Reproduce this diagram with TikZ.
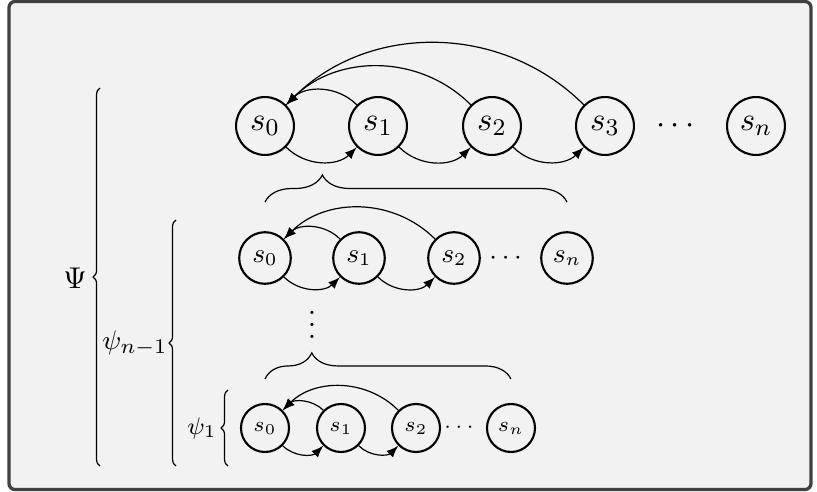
\documentclass[tikz,border=0pt]{standalone}
\usepackage{amsmath}
\usepackage{tikz}
\usetikzlibrary{decorations.pathreplacing,arrows}

\definecolor{bggray}{HTML}{F2F2F2}
\definecolor{framegray}{HTML}{404040}

\tikzset{
  st/.style={circle,draw,line width=0.7pt,inner sep=0pt},
  bigst/.style={st,minimum size=19.3pt,font=\fontsize{11}{13}\selectfont},
  midst/.style={st,minimum size=17.2pt,font=\fontsize{9}{11}\selectfont},
  smallst/.style={st,minimum size=16pt,font=\fontsize{7.5}{9}\selectfont},
  arr/.style={-latex,line width=0.4pt},
  fwd/.style={out=-45,in=-135},
  bwd/.style={out=135,in=45},
  brc/.style={decorate,decoration={brace,amplitude=#1},line width=0.4pt},
}

\begin{document}
\begin{tikzpicture}[x=0.3333pt,y=0.3333pt]
  \useasboundingbox (0,0) rectangle (817,-492);
  \draw[line width=1.1pt,draw=framegray,fill=bggray,rounded corners=2pt]
    (9,-1.5) rectangle (811,-489.5);

  % top row
  \foreach \i/\x in {0/265,1/378,2/492,3/605}
    \node[bigst] (a\i) at (\x,-126) {$s_\i$};
  \node[font=\fontsize{11}{13}\selectfont] (adots) at (678,-126) {$\cdots$};
  \node[bigst] (an) at (756,-126) {$s_n$};
  \foreach \i/\j in {0/1,1/2,2/3}
    \draw[arr] (a\i) to[fwd] (a\j);
  \foreach \i in {1,2,3}
    \draw[arr] (a\i) to[bwd] (a0);

  % middle row
  \foreach \i/\x in {0/265,1/359,2/454}
    \node[midst] (b\i) at (\x,-258) {$s_\i$};
  \node[font=\fontsize{9}{11}\selectfont] (bdots) at (508,-258) {$\cdots$};
  \node[midst] (bn) at (567,-258) {$s_n$};
  \foreach \i/\j in {0/1,1/2}
    \draw[arr] (b\i) to[fwd] (b\j);
  \foreach \i in {1,2}
    \draw[arr] (b\i) to[bwd] (b0);

  % bottom row
  \foreach \i/\x in {0/265,1/341,2/416}
    \node[smallst] (c\i) at (\x,-428) {$s_\i$};
  \node[font=\fontsize{7.5}{9}\selectfont] (cdots) at (461,-428) {$\cdots$};
  \node[smallst] (cn) at (511,-428) {$s_n$};
  \foreach \i/\j in {0/1,1/2}
    \draw[arr] (c\i) to[fwd] (c\j);
  \foreach \i in {1,2}
    \draw[arr] (c\i) to[bwd] (c0);

  \node[anchor=base] (vd) at (312,-339) {$\vdots$};

  % horizontal braces
  \draw[brc=9pt,decoration={aspect=0.19}] (265,-202) -- (567,-202);
  \draw[brc=8.7pt,decoration={aspect=0.19}] (265,-379) -- (511,-379);

  % vertical braces
  \draw[brc=2.3pt] (100,-466) -- (100,-88);
  \node (Psi) at (75,-278) {$\Psi$};
  \draw[brc=2.3pt] (176,-466) -- (176,-220);
  \node[font=\fontsize{9.5}{11}\selectfont] (psin) at (135,-343) {$\psi_{n-1}$};
  \draw[brc=2.3pt] (228,-466) -- (228,-390);
  \node[font=\fontsize{8.5}{10}\selectfont] (psi1) at (202,-428) {$\psi_1$};
\end{tikzpicture}
\end{document}
